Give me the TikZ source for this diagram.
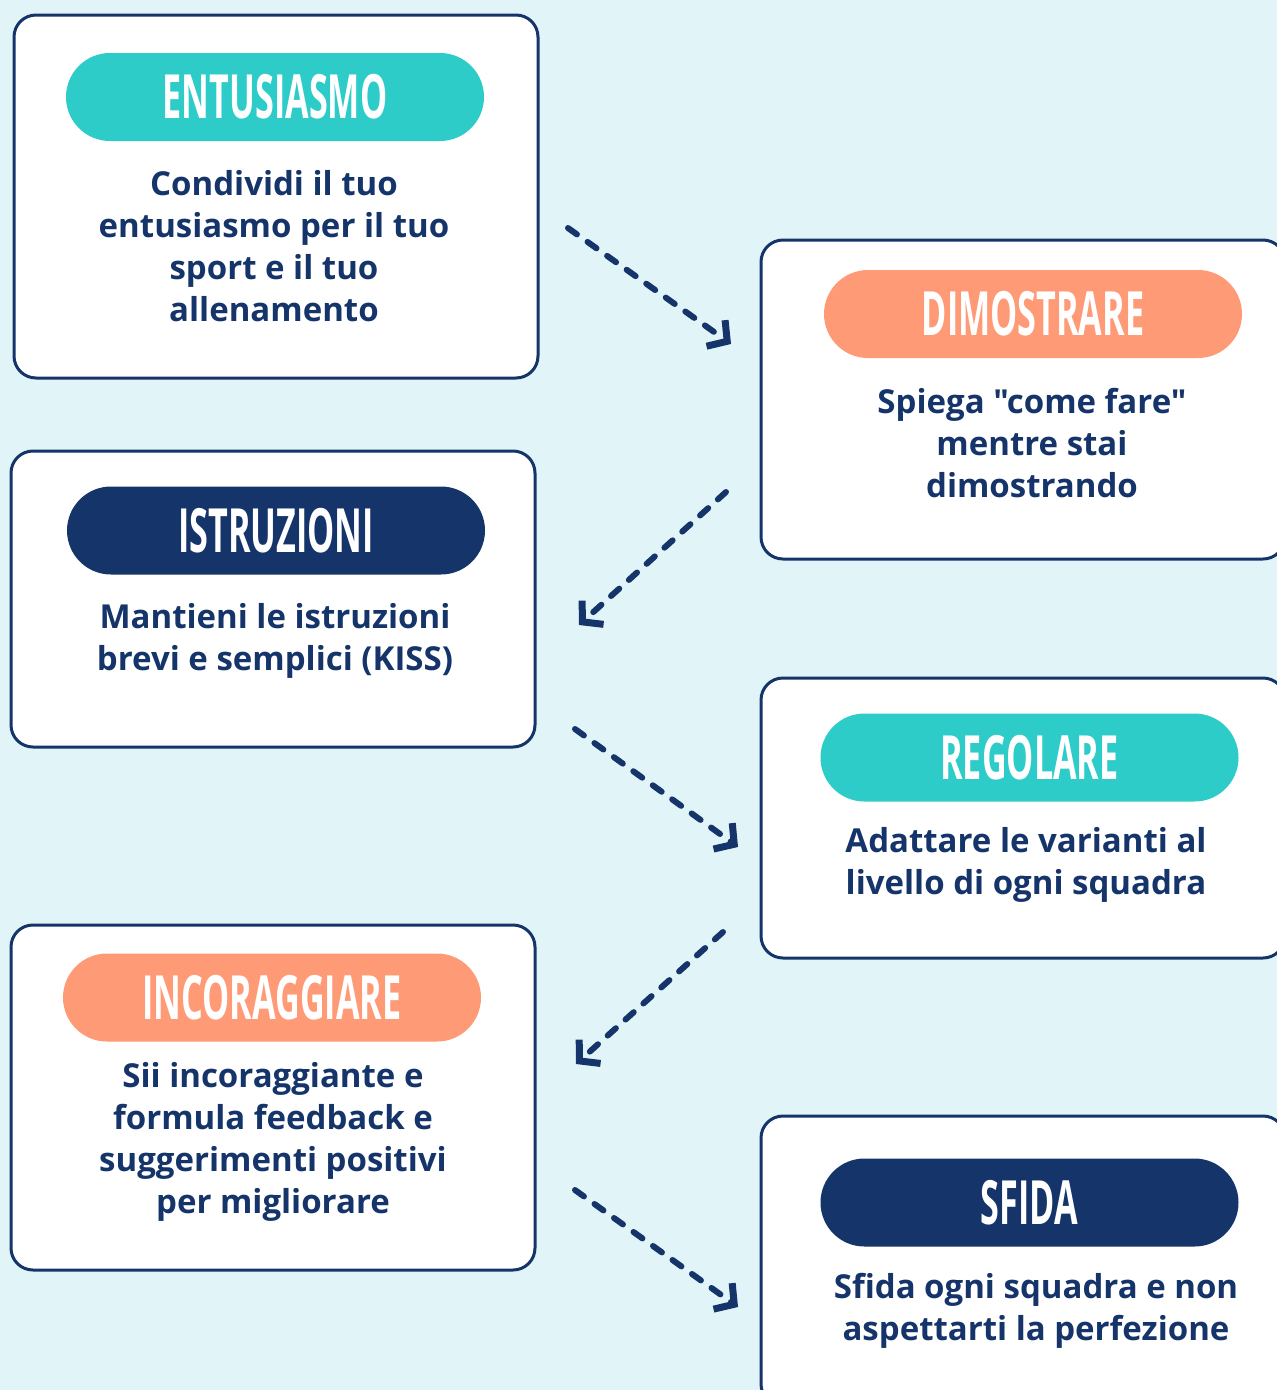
\documentclass[tikz,border=0pt]{standalone}
\usepackage{fontspec}
\setmainfont{Open Sans}
\newfontfamily\descfont{Open Sans}
\newfontfamily\headfont[FakeStretch=0.56]{Open Sans}
\usetikzlibrary{arrows.meta}
\definecolor{bgcyan}{HTML}{E1F5F8}
\definecolor{navy}{HTML}{15346A}
\definecolor{teal}{HTML}{2ECCC9}
\definecolor{salmon}{HTML}{FF9A76}
\tikzset{
  box/.style={draw=navy,line width=3pt,fill=white,rounded corners=22pt,inner sep=0pt,minimum width=524pt},
  pill/.style={rounded corners=44pt,minimum width=418pt,minimum height=88pt,inner sep=0pt,text=white,font=\headfont\bfseries\fontsize{61}{61}\selectfont},
  desc/.style={text=navy,align=center,font=\descfont\bfseries\fontsize{33}{42}\selectfont},
  flow/.style={navy,line width=6pt,line cap=round,dash pattern=on 11pt off 13pt,-{Straight Barb[length=14pt,width=32pt,line width=7pt]}}
}

\begin{document}
\begin{tikzpicture}[x=1pt,y=-1pt]
    \clip (0,0) rectangle (1277,1390);
    \fill[bgcyan] (0,0) rectangle (1277,1390);
    % left column
    \node[box,minimum height=363pt] (entbox) at (276,196.5) {};
    \node[pill,fill=teal] (enthead) at (275,97) {ENTUSIASMO};
    \node[desc] (enttext) at (274,246) {Condividi il tuo\\entusiasmo per il tuo\\sport e il tuo\\allenamento};
    \node[box,minimum height=296pt] (istbox) at (273,599) {};
    \node[pill,fill=navy] (isthead) at (276,530.5) {ISTRUZIONI};
    \node[desc] (isttext) at (275,641) {Mantieni le istruzioni\\brevi e semplici (KISS)};
    \node[box,minimum height=345pt] (incbox) at (273,1097.5) {};
    \node[pill,fill=salmon] (inchead) at (272,997.5) {INCORAGGIARE};
    \node[desc] (inctext) at (273,1142) {Sii incoraggiante e\\formula feedback e\\suggerimenti positivi\\per migliorare};
    % right column
    \node[box,minimum height=319pt] (dimbox) at (1023,399.5) {};
    \node[pill,fill=salmon] (dimhead) at (1033,314) {DIMOSTRARE};
    \node[desc] (dimtext) at (1032,443) {Spiega "come fare"\\mentre stai\\dimostrando};
    \node[box,minimum height=280pt] (regbox) at (1023,818) {};
    \node[pill,fill=teal] (reghead) at (1029.5,757.5) {REGOLARE};
    \node[desc] (regtext) at (1026,865) {Adattare le varianti al\\livello di ogni squadra};
    \node[box,minimum height=290pt] (sfibox) at (1023,1261) {};
    \node[pill,fill=navy] (sfihead) at (1029.5,1202.5) {SFIDA};
    \node[desc] (sfitext) at (1036,1311) {Sfida ogni squadra e non\\aspettarti la perfezione};
    % arrows
    \coordinate (a1s) at (568,228);  \coordinate (a1e) at (731,344);
    \coordinate (a2s) at (726,492);  \coordinate (a2e) at (579,625);
    \coordinate (a3s) at (575,729);  \coordinate (a3e) at (738,847);
    \coordinate (a4s) at (723,932);  \coordinate (a4e) at (576,1064);
    \coordinate (a5s) at (575,1190); \coordinate (a5e) at (738,1307);
    \draw[flow] (a1s) -- (a1e);
    \draw[flow] (a2s) -- (a2e);
    \draw[flow] (a3s) -- (a3e);
    \draw[flow] (a4s) -- (a4e);
    \draw[flow] (a5s) -- (a5e);
\end{tikzpicture}
\end{document}
